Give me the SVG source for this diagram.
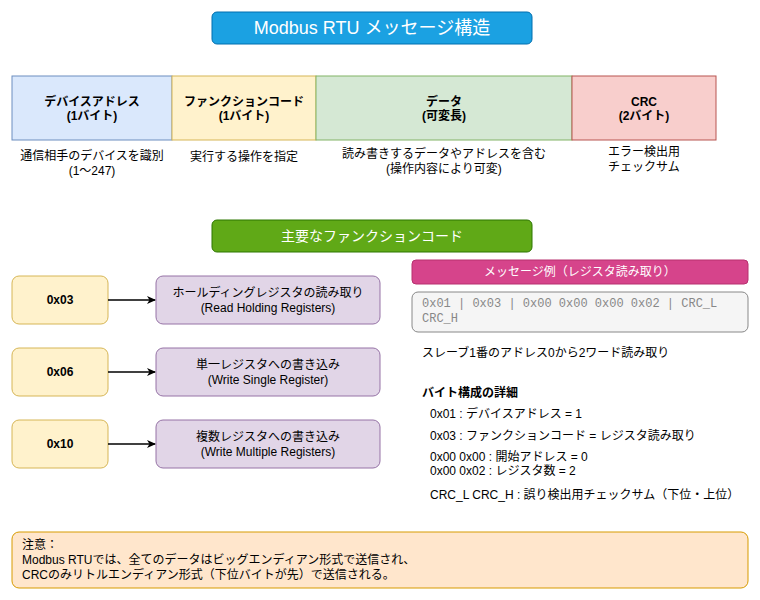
<svg xmlns="http://www.w3.org/2000/svg" width="760" height="600" viewBox="0 0 760 600">
<defs>
<style>
text{font-family:"Liberation Sans","Noto Sans CJK JP",sans-serif;font-size:12px;fill:#000}
.c{text-anchor:middle}
.b{font-weight:bold}
.w{fill:#fff}
.mono{font-family:"Liberation Mono","Noto Sans CJK JP",monospace;fill:#888}
.code{fill:#fff2cc;stroke:#d6b656}
.desc{fill:#e1d5e7;stroke:#9673a6}
.conn{stroke:#000;stroke-width:1.5;fill:none;marker-end:url(#arr)}
</style>
<marker id="arr" markerWidth="10" markerHeight="10" refX="8" refY="5" orient="auto" markerUnits="userSpaceOnUse">
<path d="M0,1 L9,5 L0,9 L2.5,5 Z" fill="#000"/>
</marker>
</defs>
<rect width="760" height="600" fill="#fff"/>

<g id="title">
<rect x="212" y="12" width="320" height="32" rx="5" fill="#1ba1e2" stroke="#006eaf"/>
<text x="372" y="34" class="c w" style="font-size:18px">Modbus RTU メッセージ構造</text>
</g>

<g id="field-address">
<rect x="12" y="76" width="160" height="64" fill="#dae8fc" stroke="#6c8ebf"/>
<text x="92" y="106" class="c b">デバイスアドレス</text>
<text x="92" y="120" class="c b">(1バイト)</text>
</g>
<g id="field-function">
<rect x="172" y="76" width="144" height="64" fill="#fff2cc" stroke="#d6b656"/>
<text x="244" y="106" class="c b">ファンクションコード</text>
<text x="244" y="120" class="c b">(1バイト)</text>
</g>
<g id="field-data">
<rect x="316" y="76" width="256" height="64" fill="#d5e8d4" stroke="#82b366"/>
<text x="444" y="106" class="c b">データ</text>
<text x="444" y="120" class="c b">(可変長)</text>
</g>
<g id="field-crc">
<rect x="572" y="76" width="144" height="64" fill="#f8cecc" stroke="#b85450"/>
<text x="644" y="106" class="c b">CRC</text>
<text x="644" y="120" class="c b">(2バイト)</text>
</g>

<g id="desc-address">
<text x="92" y="160" class="c">通信相手のデバイスを識別</text>
<text x="92" y="175" class="c">(1〜247)</text>
</g>
<g id="desc-function">
<text x="244" y="161" class="c">実行する操作を指定</text>
</g>
<g id="desc-data">
<text x="444" y="158" class="c">読み書きするデータやアドレスを含む</text>
<text x="444" y="173" class="c">(操作内容により可変)</text>
</g>
<g id="desc-crc">
<text x="644" y="156" class="c">エラー検出用</text>
<text x="644" y="171" class="c">チェックサム</text>
</g>

<g id="fc-header">
<rect x="212" y="220" width="320" height="32" rx="5" fill="#60a917" stroke="#2d7600"/>
<text x="372" y="241" class="c w" style="font-size:14px">主要なファンクションコード</text>
</g>

<g id="fc-03">
<rect x="12" y="276" width="96" height="48" rx="7" class="code"/>
<text x="60" y="304" class="c b">0x03</text>
</g>
<g id="fc-03-desc">
<rect x="156" y="276" width="224" height="48" rx="7" class="desc"/>
<text x="268" y="297" class="c">ホールディングレジスタの読み取り</text>
<text x="268" y="312" class="c">(Read Holding Registers)</text>
</g>
<g id="fc-06">
<rect x="12" y="348" width="96" height="48" rx="7" class="code"/>
<text x="60" y="376" class="c b">0x06</text>
</g>
<g id="fc-06-desc">
<rect x="156" y="348" width="224" height="48" rx="7" class="desc"/>
<text x="268" y="369" class="c">単一レジスタへの書き込み</text>
<text x="268" y="384" class="c">(Write Single Register)</text>
</g>
<g id="fc-10">
<rect x="12" y="420" width="96" height="48" rx="7" class="code"/>
<text x="60" y="448" class="c b">0x10</text>
</g>
<g id="fc-10-desc">
<rect x="156" y="420" width="224" height="48" rx="7" class="desc"/>
<text x="268" y="441" class="c">複数レジスタへの書き込み</text>
<text x="268" y="456" class="c">(Write Multiple Registers)</text>
</g>

<g id="connectors">
<line x1="108" y1="300" x2="155" y2="300" class="conn"/>
<line x1="108" y1="372" x2="155" y2="372" class="conn"/>
<line x1="108" y1="444" x2="155" y2="444" class="conn"/>
</g>

<g id="example-header">
<rect x="412" y="260" width="336" height="24" rx="4" fill="#d6448b" stroke="#b7306f"/>
<text x="580" y="276" class="c w">メッセージ例（レジスタ読み取り）</text>
</g>
<g id="example-bytes">
<rect x="412" y="292" width="336" height="40" rx="6" fill="#f5f5f5" stroke="#888"/>
<text x="422" y="307" class="mono">0x01 | 0x03 | 0x00 0x00 0x00 0x02 | CRC_L</text>
<text x="422" y="322" class="mono">CRC_H</text>
</g>
<g id="example-summary">
<text x="422" y="357">スレーブ1番のアドレス0から2ワード読み取り</text>
</g>
<g id="byte-details">
<text x="422" y="397" class="b">バイト構成の詳細</text>
<text x="430" y="418">0x01 : デバイスアドレス = 1</text>
<text x="430" y="440">0x03 : ファンクションコード = レジスタ読み取り</text>
<text x="430" y="461">0x00 0x00 : 開始アドレス = 0</text>
<text x="430" y="475">0x00 0x02 : レジスタ数 = 2</text>
<text x="430" y="499">CRC_L CRC_H : 誤り検出用チェックサム（下位・上位）</text>
</g>

<g id="note">
<rect x="12" y="532" width="736" height="56" rx="7" fill="#ffe6cc" stroke="#d79b00"/>
<text x="22" y="549">注意：</text>
<text x="22" y="564">Modbus RTUでは、全てのデータはビッグエンディアン形式で送信され、</text>
<text x="22" y="579">CRCのみリトルエンディアン形式（下位バイトが先）で送信される。</text>
</g>
</svg>
